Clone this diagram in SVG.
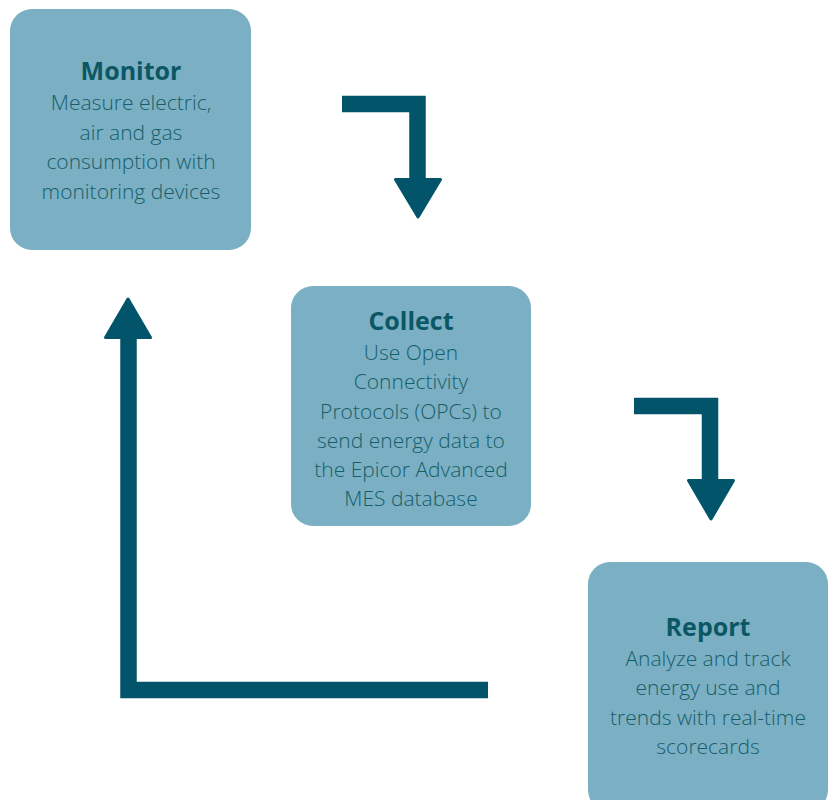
<svg xmlns="http://www.w3.org/2000/svg" width="832" height="800" viewBox="0 0 832 800">
<style>
.box{fill:#7BAFC4}
.t{font-family:"Open Sans","Liberation Sans",sans-serif;fill:#0B5763;text-anchor:middle}
.h{font-size:25px;font-weight:700}
.b{font-size:21px;font-weight:300;fill:#165F69}
.ln{fill:none;stroke:#02546A;stroke-width:16.5}
.hd{fill:#02546A;stroke:#02546A;stroke-width:3;stroke-linejoin:round}
</style>
<rect width="832" height="800" fill="#fff"/>
<g id="monitor">
<rect class="box" x="10" y="9" width="241" height="241" rx="22"/>
<text class="t h" x="131" y="80">Monitor</text>
<text class="t b" x="131" y="110">Measure electric,</text>
<text class="t b" x="131" y="139.5">air and gas</text>
<text class="t b" x="131" y="169">consumption with</text>
<text class="t b" x="131" y="198.5">monitoring devices</text>
</g>
<g id="collect">
<rect class="box" x="291" y="286" width="240" height="240" rx="22"/>
<text class="t h" x="411" y="330">Collect</text>
<text class="t b" x="411" y="360">Use Open</text>
<text class="t b" x="411" y="389">Connectivity</text>
<text class="t b" x="411" y="418.5">Protocols (OPCs) to</text>
<text class="t b" x="411" y="448">send energy data to</text>
<text class="t b" x="411" y="477">the Epicor Advanced</text>
<text class="t b" x="411" y="506">MES database</text>
</g>
<g id="report">
<rect class="box" x="588" y="562" width="240" height="250" rx="22"/>
<text class="t h" x="708" y="636">Report</text>
<text class="t b" x="708" y="666">Analyze and track</text>
<text class="t b" x="708" y="695">energy use and</text>
<text class="t b" x="708" y="724.5">trends with real-time</text>
<text class="t b" x="708" y="754">scorecards</text>
</g>
<g id="connectors">
<path class="ln" d="M342,104 H417.5 V181"/>
<polygon class="hd" points="395.5,179.5 440.5,179.5 418,217"/>
<path class="ln" d="M634,406 H710 V482"/>
<polygon class="hd" points="688.5,480.5 733.5,480.5 711,519"/>
<path class="ln" d="M488,690 H128.5 V336"/>
<polygon class="hd" points="105.5,337.5 150.5,337.5 128,299"/>
</g>
</svg>
